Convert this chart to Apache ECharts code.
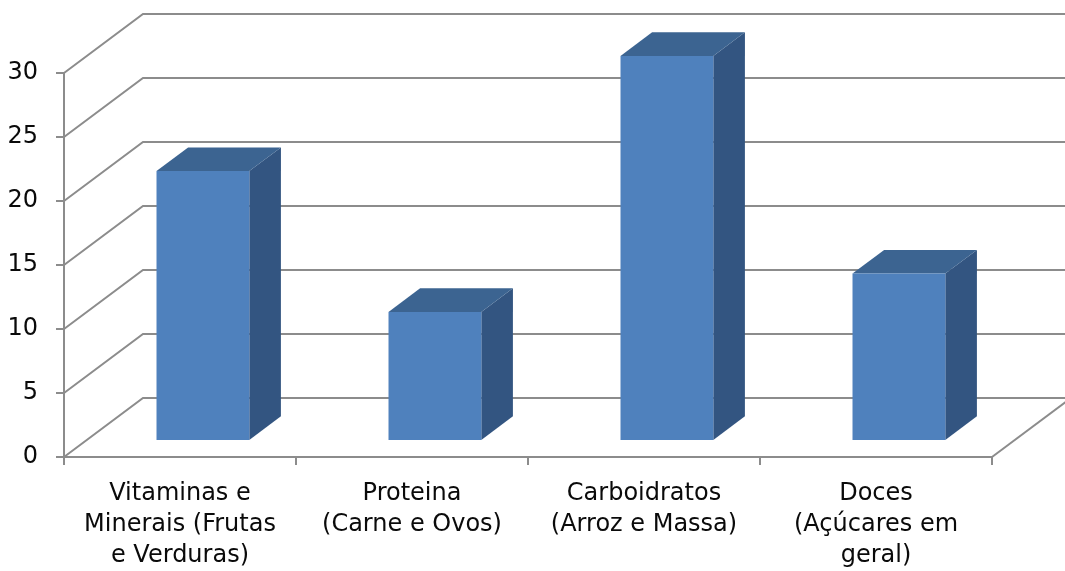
<!DOCTYPE html>
<html><head><meta charset="utf-8">
<script src="https://cdn.jsdelivr.net/npm/echarts@6/dist/echarts.min.js"></script>
<style>html,body{margin:0;padding:0;background:#fff}#c{width:1065px;height:571px}</style>
</head><body><div id="c"></div>
<script>
const categories = ['Vitaminas e\nMinerais (Frutas\ne Verduras)', 'Proteina\n(Carne e Ovos)', 'Carboidratos\n(Arroz e Massa)', 'Doces\n(Açúcares em\ngeral)'];
const values = [21, 10, 30, 13];
const yTicks = [0, 5, 10, 15, 20, 25, 30];

const DX = 79, DY = -59;          // depth projection of the 3D box
const F1 = 0.29, F2 = 0.69;       // bar depth range (fraction of depth)
const BAR_W = 0.4;                // bar width as fraction of category
const GRID_COLOR = '#8c8c8c';
const FONT = 'DejaVu Sans';

const chart = echarts.init(document.getElementById('c'));
const lineStyle = { stroke: GRID_COLOR, lineWidth: 2, fill: null };

chart.setOption({
  backgroundColor: '#fff',
  animation: false,
  grid: { left: 64, right: 73, top: 73, bottom: 112 },
  xAxis: {
    type: 'category', data: categories, boundaryGap: true,
    axisLine: { lineStyle: { color: GRID_COLOR, width: 2 } },
    axisTick: { show: true, alignWithLabel: false, interval: 0, length: 8, lineStyle: { color: GRID_COLOR, width: 2 } },
    axisLabel: { interval: 0, color: '#0a0a0a', fontFamily: FONT, fontSize: 24, lineHeight: 31, margin: 21 }
  },
  yAxis: {
    type: 'value', min: yTicks[0], max: yTicks[yTicks.length - 1], interval: 5,
    axisLine: { show: true, lineStyle: { color: GRID_COLOR, width: 2 } },
    axisTick: { show: true, length: 8, lineStyle: { color: GRID_COLOR, width: 2 } },
    splitLine: { show: false },
    axisLabel: { color: '#0a0a0a', fontFamily: FONT, fontSize: 24, margin: 26 }
  },
  series: [
    {
      type: 'custom', z: 1, silent: true,
      data: yTicks.map(v => [0, v]),
      encode: { x: 0, y: 1 },
      renderItem(params, api) {
        const cs = params.coordSys;
        const v = api.value(1);
        const y = api.coord([0, v])[1];
        const x0 = cs.x, x1 = cs.x + cs.width;
        const children = [{ type: 'polyline', shape: { points: [[x0, y], [x0 + DX, y + DY], [x1 + DX, y + DY]] }, style: lineStyle }];
        if (v === yTicks[0]) {
          children.push({ type: 'line', shape: { x1: x1, y1: y, x2: x1 + DX, y2: y + DY }, style: lineStyle });
        }
        return { type: 'group', children };
      }
    },
    {
      type: 'custom', z: 3,
      data: values.map((v, i) => [i, v]),
      encode: { x: 0, y: 1 },
      renderItem(params, api) {
        const idx = api.value(0), v = api.value(1);
        const top = api.coord([idx, v]);
        const base = api.coord([idx, 0]);
        const w = api.size([1, 0])[0] * BAR_W;
        const ox = F1 * DX, oy = F1 * DY;
        const dx = (F2 - F1) * DX, dy = (F2 - F1) * DY;
        const xl = top[0] - w / 2 + ox, xr = top[0] + w / 2 + ox;
        const yt = top[1] + oy, yb = base[1] + oy;
        return {
          type: 'group',
          children: [
            { type: 'polygon', shape: { points: [[xr, yt], [xr + dx, yt + dy], [xr + dx, yb + dy], [xr, yb]] }, style: { fill: '#335581' } },
            { type: 'polygon', shape: { points: [[xl, yt], [xl + dx, yt + dy], [xr + dx, yt + dy], [xr, yt]] }, style: { fill: '#3c6491' } },
            { type: 'rect', shape: { x: xl, y: yt, width: w, height: yb - yt }, style: { fill: '#4f81bd' } }
          ]
        };
      }
    }
  ]
});
</script></body></html>
